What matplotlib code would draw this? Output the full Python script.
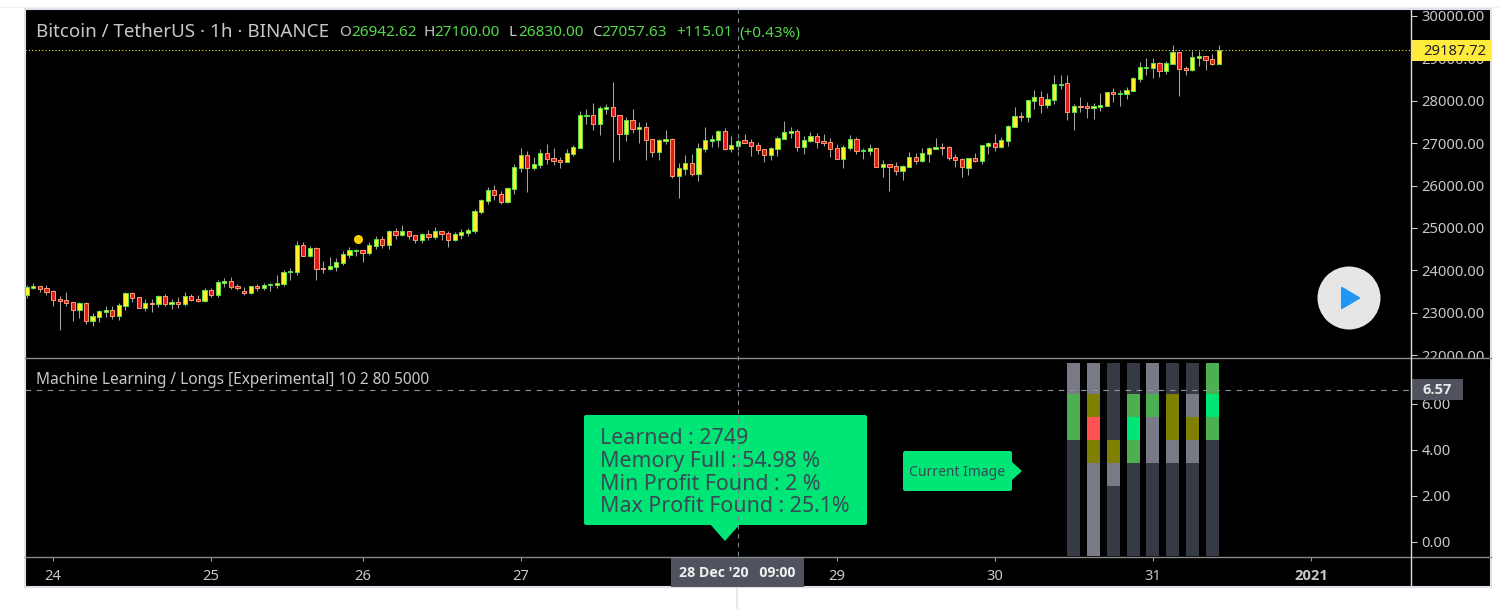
import matplotlib
matplotlib.use('Agg')
import matplotlib.pyplot as plt
from matplotlib.patches import Rectangle, Polygon, Circle, FancyBboxPatch

# Hourly candles, one value per candle.
opens = [
    23413, 23594, 23626, 23578, 23508, 23319, 23296, 23248, 23075, 23225,
    22816, 22910, 23028, 23060, 22934, 23170, 23461, 23366, 23123, 23233,
    23217, 23390, 23217, 23248, 23217, 23390, 23319, 23288, 23531, 23429,
    23712, 23744, 23626, 23508, 23476, 23626, 23594, 23649, 23665, 23689,
    23956, 23971, 24592, 24349, 24522, 24058, 24042, 24089, 24184, 24372,
    24467, 24475, 24420, 24585, 24734, 24608, 24923, 24844, 24923, 24828,
    24726, 24852, 24797, 24923, 24876, 24726, 24844, 24891, 24938, 25386,
    25646, 25890, 25795, 25622, 25929, 26424, 26715, 26424, 26495, 26762,
    26644, 26597, 26565, 26754, 26896, 27650, 27658, 27462, 27815, 27847,
    27658, 27210, 27540, 27344, 27375, 27092, 26801, 27061, 27092, 26235,
    26400, 26526, 26283, 26872, 27060, 27076, 27280, 26864, 26942.62, 27068,
    27021, 26950, 26856, 26730, 26872, 27107, 27249, 27280, 26919, 27060,
    27162, 27045, 27021, 26879, 26636, 26895, 27092, 26824, 26824, 26879,
    26447, 26502, 26455, 26353, 26447, 26667, 26589, 26754, 26872, 26911,
    26903, 26667, 26620, 26424, 26644, 26589, 26942, 26997, 26919, 27060,
    27391, 27642, 27626, 28004, 28082, 27909, 28027, 28381, 28412, 27744,
    27878, 27870, 27839, 27862, 27886, 28200, 28169, 28169, 28239, 28522,
    28782, 28782, 28884, 28711, 28876, 29143, 28766, 28727, 29018, 29049,
    28978, 28876]
highs = [
    23649, 23704, 23626, 23649, 23539, 23398, 23492, 23248, 23256, 23256,
    22989, 23068, 23162, 23162, 23241, 23492, 23492, 23366, 23319, 23327,
    23413, 23445, 23319, 23374, 23492, 23445, 23413, 23578, 23578, 23767,
    23822, 23846, 23673, 23602, 23634, 23673, 23704, 23704, 23893, 24003,
    24058, 24695, 24671, 24577, 24553, 24223, 24309, 24286, 24459, 24545,
    24506, 24482, 24671, 24805, 24805, 24946, 24993, 25072, 24923, 24828,
    24876, 24946, 25017, 24923, 24923, 24899, 24978, 24993, 25442, 25677,
    25960, 26007, 25866, 25960, 26510, 26880, 26809, 26668, 26856, 26974,
    26880, 26668, 26856, 26951, 27752, 27800, 27949, 27870, 27925, 28436,
    27658, 27619, 27800, 27501, 27501, 27092, 27092, 27304, 27116, 26526,
    26715, 26738, 26998, 27375, 27186, 27304, 27351, 27170, 27100, 27217,
    27092, 27029, 26856, 26903, 27170, 27524, 27383, 27328, 27170, 27265,
    27241, 27217, 27123, 26982, 26950, 27194, 27147, 26887, 26982, 26879,
    26604, 26502, 26557, 26479, 26793, 26769, 26879, 26903, 27123, 27005,
    26935, 26746, 26644, 26644, 26769, 26950, 27029, 27217, 27139, 27422,
    27846, 27729, 28012, 28255, 28232, 28177, 28609, 28609, 28609, 27925,
    28090, 27972, 27941, 28184, 28200, 28302, 28255, 28326, 28562, 28915,
    29010, 29010, 28915, 28939, 29316, 29159, 28821, 29175, 29183, 29049,
    29104, 29316]
lows = [
    23358, 23555, 23492, 23429, 23170, 22604, 23170, 22816, 22879, 22745,
    22698, 22785, 22903, 22863, 22840, 23075, 23264, 23123, 23052, 23028,
    23146, 23170, 23091, 23115, 23170, 23288, 23256, 23264, 23382, 23382,
    23618, 23563, 23547, 23421, 23453, 23523, 23547, 23523, 23594, 23641,
    23783, 23901, 24349, 24317, 23783, 23948, 24019, 23995, 24137, 24302,
    24349, 24207, 24372, 24506, 24538, 24506, 24742, 24813, 24750, 24656,
    24656, 24718, 24750, 24718, 24561, 24695, 24750, 24821, 24891, 25339,
    25575, 25669, 25575, 25599, 25811, 26330, 25858, 26377, 26408, 26518,
    26487, 26424, 26565, 26707, 26896, 27454, 27320, 27202, 27689, 26565,
    26613, 27061, 27249, 27014, 26613, 26683, 26613, 26990, 26188, 25717,
    26259, 26235, 26117, 26801, 26911, 26911, 26840, 26793, 26830, 27013,
    26707, 26746, 26557, 26604, 26707, 27107, 27123, 26817, 26746, 27037,
    26895, 26935, 26675, 26636, 26416, 26840, 26746, 26628, 26722, 26447,
    26204, 25873, 26251, 26133, 26447, 26510, 26557, 26557, 26864, 26722,
    26604, 26439, 26204, 26251, 26557, 26510, 26746, 26817, 26888, 26935,
    27391, 27524, 27501, 27807, 27713, 27831, 27925, 28279, 27548, 27312,
    27736, 27595, 27571, 27760, 27886, 27972, 27878, 28043, 28239, 28444,
    28609, 28538, 28562, 28632, 28876, 28114, 28609, 28703, 28821, 28727,
    28853, 28876]
closes = [
    23602, 23626, 23571, 23500, 23311, 23288, 23241, 23075, 23225, 22816,
    22918, 23036, 23060, 22934, 23178, 23461, 23358, 23123, 23225, 23217,
    23390, 23217, 23248, 23217, 23390, 23311, 23288, 23531, 23429, 23720,
    23744, 23618, 23594, 23476, 23626, 23594, 23649, 23673, 23696, 23956,
    23979, 24592, 24349, 24522, 24042, 24042, 24097, 24192, 24380, 24475,
    24482, 24420, 24592, 24734, 24608, 24923, 24844, 24923, 24821, 24726,
    24852, 24797, 24923, 24868, 24726, 24852, 24899, 24946, 25394, 25654,
    25890, 25787, 25622, 25937, 26432, 26715, 26424, 26503, 26762, 26636,
    26589, 26565, 26762, 26903, 27658, 27666, 27462, 27823, 27847, 27650,
    27210, 27540, 27344, 27375, 27084, 26801, 27069, 27092, 26235, 26408,
    26526, 26283, 26880, 27069, 27092, 27280, 26864, 26950, 27057.63, 27013,
    26942, 26848, 26730, 26879, 27115, 27257, 27280, 26919, 27068, 27162,
    27037, 27013, 26872, 26636, 26903, 27092, 26824, 26840, 26879, 26447,
    26502, 26447, 26353, 26455, 26667, 26589, 26762, 26879, 26903, 26887,
    26659, 26612, 26439, 26644, 26589, 26950, 26997, 26919, 27068, 27398,
    27634, 27619, 28012, 28082, 27909, 28035, 28389, 28397, 27744, 27870,
    27854, 27839, 27870, 27894, 28200, 28169, 28184, 28247, 28530, 28790,
    28798, 28884, 28711, 28884, 29143, 28758, 28735, 29025, 29049, 28970,
    28876, 29187.72]

# Yellow marker above the candles.
dot_x = [50.3]
dot_price = [24742]

# Axis ticks.
price_ticks = [22000, 23000, 24000, 25000, 26000, 27000, 28000, 29000, 30000]
pane_ticks = [0, 2, 4, 6]
day_ticks = [4, 28, 51, 75, 123, 147, 171, 195]
day_labels = ['24', '25', '26', '27', '29', '30', '31', '2021']

# Lower pane: "image" columns, cell colours from the bottom row to the top row.
column_x = [159, 162, 165, 168, 171, 174, 177, 180]
cell_edges = [-0.6, 0.4, 1.4, 2.4, 3.4, 4.4, 5.4, 6.4, 7.76]
columns = [
    ['D', 'D', 'D', 'D', 'D', 'g', 'g', 'G'],
    ['G', 'G', 'G', 'G', 'O', 'R', 'O', 'G'],
    ['D', 'D', 'D', 'G', 'O', 'D', 'D', 'D'],
    ['D', 'D', 'D', 'D', 'g', 'B', 'g', 'D'],
    ['D', 'D', 'D', 'D', 'G', 'G', 'g', 'G'],
    ['D', 'D', 'D', 'D', 'G', 'O', 'O', 'D'],
    ['D', 'D', 'D', 'D', 'G', 'O', 'G', 'D'],
    ['D', 'D', 'D', 'D', 'D', 'g', 'B', 'g'],
]
cell_colors = {'D': '#363a45', 'G': '#787b86', 'g': '#4caf50',
               'B': '#00e676', 'R': '#ff5252', 'O': '#808000'}
pane_value = 6.57

tooltip_lines = ['Learned : 2749', 'Memory Full : 54.98 %',
                 'Min Profit Found : 2 %', 'Max Profit Found : 25.1%']

W, H = 1499, 609
FONT = 'Noto Sans'
TEXT = '#c8c8c8'
plt.rcParams['font.family'] = [FONT, 'DejaVu Sans']


def px_axes(left, top, right, bottom, z):
    # Make an axes from pixel edges measured from the top left corner.
    a = fig.add_axes([left / W, 1 - bottom / H, (right - left) / W, (bottom - top) / H], zorder=z)
    a.patch.set_alpha(0)
    for s in a.spines.values():
        s.set_visible(False)
    return a


fig = plt.figure(figsize=(W / 100, H / 100), dpi=100, facecolor='white')

# Background and overlay both use plain pixel coordinates.
bg = px_axes(0, 0, W, H, 0)
bg.set_xlim(0, W)
bg.set_ylim(H, 0)
bg.axis('off')
bg.add_patch(Rectangle((25, 9), 1466, 578, fc='black', ec='#dfe2ea', lw=1.5))
bg.plot([0, W], [7, 7], color='#eef0f5', lw=0.8)
bg.plot([737.5, 737.5], [587, 609], color='#e4e4e4', lw=1.2)

# Candles.
ax = px_axes(25, 9, 1411, 358, 1)
ax.set_xlim(-0.26, 210.2)
ax.set_ylim(21934, 30165)
idx = list(range(len(opens)))
ax.vlines(idx, lows, highs, color='#a3a3a3', lw=0.75, zorder=2)
for i, o, c in zip(idx, opens, closes):
    if c >= o:
        ax.bar(i, c - o, bottom=o, width=0.64, color='#fff02c', edgecolor='#55e24c', lw=0.7, zorder=3)
    else:
        ax.bar(i, o - c, bottom=c, width=0.64, color='#dc1f1c', edgecolor='#ff9c6e', lw=0.7, zorder=3)
ax.plot(dot_x, dot_price, 'o', color='#ffd000', ms=6.5, mec='none', zorder=4)
ax.axhline(closes[-1], color='#ffeb3b', lw=0.8, ls=(0, (1, 2)), zorder=1)
ax.xaxis.set_visible(False)
ax.yaxis.tick_right()
ax.set_yticks(price_ticks)
ax.set_yticklabels(['%.2f' % v for v in price_ticks])
ax.tick_params(axis='y', length=4.5, width=0.8, color='#c8c8c8', labelcolor=TEXT, labelsize=10.6, pad=3)

# Lower pane.
ax2 = px_axes(25, 358, 1411, 557, 1)
ax2.set_xlim(-0.26, 210.2)
ax2.set_ylim(-0.664, 7.98)
for x, col in zip(column_x, columns):
    for r, key in enumerate(col):
        ax2.bar(x, cell_edges[r + 1] - cell_edges[r], bottom=cell_edges[r], width=2.0,
                color=cell_colors[key], edgecolor='none', zorder=2)
ax2.axhline(pane_value, color='#8f96a3', lw=0.8, ls=(0, (5, 5)), zorder=3)
ax2.yaxis.tick_right()
ax2.set_yticks(pane_ticks)
ax2.set_yticklabels(['%.2f' % v for v in pane_ticks])
ax2.set_xticks(day_ticks)
ax2.set_xticklabels(day_labels)
ax2.tick_params(axis='y', length=4.5, width=0.8, color='#c8c8c8', labelcolor=TEXT, labelsize=10.6, pad=3)
ax2.tick_params(axis='x', length=3, width=0.8, color='#9a9a9a', labelcolor=TEXT, labelsize=10.6, pad=6)
year_label = ax2.get_xticklabels()[-1]
year_label.set_fontfamily('Open Sans')
year_label.set_fontweight('bold')

# Overlay: separators, price labels, tooltips and the play button.
ov = px_axes(0, 0, W, H, 5)
ov.set_xlim(0, W)
ov.set_ylim(H, 0)
ov.axis('off')
ov.add_patch(Rectangle((1412, 358), 78, 12, fc='black', ec='none'))
ov.plot([25, 1491], [358, 358], color='#8a8a8a', lw=1)
ov.plot([25, 1491], [557, 557], color='#8a8a8a', lw=1)
ov.plot([1411.5, 1411.5], [9, 587], color='#dcdcdc', lw=1)

ov.text(36, 32, 'Bitcoin / TetherUS · 1h · BINANCE', color=TEXT, fontsize=13.5, va='center')
ov.text(339, 33, 'O', color=TEXT, fontsize=11, va='center')
ov.text(351, 33, '26942.62', color='#53d94a', fontsize=11, va='center')
ov.text(424, 33, 'H', color=TEXT, fontsize=11, va='center')
ov.text(434, 33, '27100.00', color='#53d94a', fontsize=11, va='center')
ov.text(509, 33, 'L', color=TEXT, fontsize=11, va='center')
ov.text(518, 33, '26830.00', color='#53d94a', fontsize=11, va='center')
ov.text(592, 33, 'C', color=TEXT, fontsize=11, va='center')
ov.text(601, 33, '27057.63', color='#53d94a', fontsize=11, va='center')
ov.text(676, 33, '+115.01', color='#53d94a', fontsize=11, va='center')
ov.text(739, 33, '(+0.43%)', color='#53d94a', fontsize=11, va='center')
ov.text(36, 380.5, 'Machine Learning / Longs [Experimental] 10 2 80 5000', color=TEXT, fontsize=11.1, va='center')

# Tooltips.
green = '#00e676'
ov.add_patch(FancyBboxPatch((586, 417), 279, 106, boxstyle='round,pad=2,rounding_size=2', fc=green, ec='none'))
ov.add_patch(Polygon([(710, 524), (740, 524), (725, 541)], fc=green, ec='none'))
for line, y in zip(tooltip_lines, [438, 461, 484, 507]):
    ov.text(600, y, line, color='#3b4a55', fontsize=15.4, va='center')
ov.add_patch(FancyBboxPatch((905, 453), 105, 36, boxstyle='round,pad=2,rounding_size=2', fc=green, ec='none'))
ov.add_patch(Polygon([(1011, 461), (1011, 481), (1022, 471)], fc=green, ec='none'))
ov.text(957.5, 472.5, 'Current Image', color='#3b4a55', fontsize=10, va='center', ha='center')

# Crosshair runs over the tooltip.
ov.plot([738.5, 738.5], [9, 557], color='#758696', lw=0.8, ls=(0, (4, 4)))

# Boxes on the axes.
ov.add_patch(Rectangle((1412, 40), 79, 21, fc='#ffeb3b', ec='none'))
ov.text(1423, 51.5, '%.2f' % closes[-1], color='#222222', fontsize=10.6, va='center')
ov.add_patch(Rectangle((1412, 379), 51, 21, fc='#50535e', ec='none'))
ov.text(1423, 390.5, '%.2f' % pane_value, color='#e8e8e8', fontsize=10.6, va='center',
        family='Open Sans', fontweight='bold')
ov.add_patch(Rectangle((671, 558), 133, 29, fc='#50535e', ec='none'))
ov.text(737.5, 573, "28 Dec '20   09:00", color='#f0f0f0', fontsize=10.2, va='center', ha='center',
        family='Open Sans', fontweight='bold')

# Play button.
ov.add_patch(Circle((1349, 298), 31.5, fc='#e6e6e6', ec='none'))
ov.add_patch(Polygon([(1342, 288), (1342, 308), (1359, 298)], fc='#2196f3', ec='#2196f3', lw=1.5, joinstyle='round'))

fig.savefig('out.png', dpi=100, facecolor='white')
